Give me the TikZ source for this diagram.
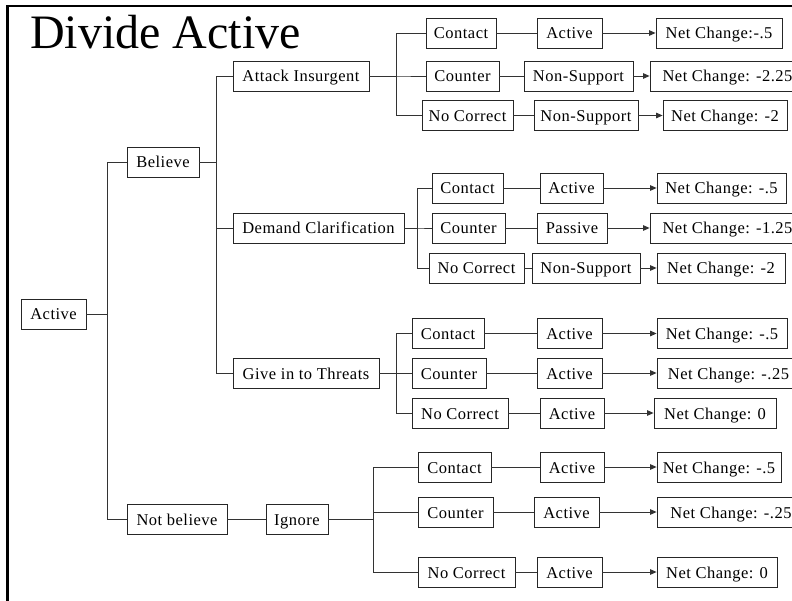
\documentclass[tikz,border=0pt]{standalone}
\usepackage{fontspec}
\setmainfont{Liberation Serif}
\newfontfamily\boxfont[LetterSpace=3]{Liberation Serif}
\usetikzlibrary{arrows.meta}
\begin{document}
\begin{tikzpicture}[x=1pt,y=-1pt,
  box/.style={draw=black!85,line width=0.8pt,minimum height=30pt,inner sep=0pt,
    text height=12pt,text depth=0pt,
    font=\boxfont\fontsize{16.5}{18}\selectfont,fill=white},
  link/.style={draw=black!80,line width=0.9pt},
  arr/.style={link,-{Triangle[length=6.5pt,width=5.5pt]}}]
\clip (0,0) rectangle (792,601);
\fill[white] (0,0) rectangle (792,601);
\draw[line width=2.5pt] (7.5,601) -- (7.5,6) -- (792,6);
\node[anchor=base west,font=\fontsize{48}{50}\selectfont,inner sep=0pt] (title) at (30,49) {Divide Active};

% main tree
\node[box,minimum width=65pt] (act) at (53.5,314) {Active};
\node[box,minimum width=72pt] (bel) at (163,162) {Believe};
\node[box,minimum width=100pt] (nbel) at (177,519) {Not believe};
\node[box,minimum width=62pt] (ign) at (297,519) {Ignore};
\node[box,minimum width=136pt] (att) at (301,76) {Attack Insurgent};
\node[box,minimum width=171pt] (dem) at (318.5,228) {Demand Clarification};
\node[box,minimum width=146pt] (giv) at (306,373.5) {Give in to Threats};

\coordinate (j0) at (107,0);
\coordinate (j1) at (216,0);
\coordinate (ja) at (396,0);
\coordinate (jd) at (417,0);
\coordinate (jg) at (396,0);
\coordinate (ji) at (373,0);

% Attack group
\node[box,minimum width=70pt] (a1) at (461,33) {Contact};
\node[box,minimum width=65pt] (a1m) at (569.5,33) {Active};
\node[box,minimum width=126pt] (a1n) at (719,33) {Net Change:-.5};
\node[box,minimum width=73pt] (a2) at (462.5,76) {Counter};
\node[box,minimum width=109pt] (a2m) at (578.5,76) {Non-Support};
\node[box,minimum width=155pt] (a2n) at (727.5,76) {Net Change: -2.25};
\node[box,minimum width=91pt] (a3) at (467.5,115.5) {No Correct};
\node[box,minimum width=104pt] (a3m) at (586,115.5) {Non-Support};
\node[box,minimum width=124pt] (a3n) at (725,115.5) {Net Change: -2};

% Demand group
\node[box,minimum width=71pt] (d1) at (467.5,188) {Contact};
\node[box,minimum width=63pt] (d1m) at (571.5,188) {Active};
\node[box,minimum width=129pt] (d1n) at (721.5,188) {Net Change: -.5};
\node[box,minimum width=73pt] (d2) at (468.5,228) {Counter};
\node[box,minimum width=70pt] (d2m) at (572,228) {Passive};
\node[box,minimum width=155pt] (d2n) at (727.5,228) {Net Change: -1.25};
\node[box,minimum width=95pt] (d3) at (476.5,268) {No Correct};
\node[box,minimum width=108pt] (d3m) at (586,268) {Non-Support};
\node[box,minimum width=128pt] (d3n) at (721,268) {Net Change: -2};

% Give group
\node[box,minimum width=72pt] (g1) at (448,333.5) {Contact};
\node[box,minimum width=65pt] (g1m) at (569.5,333.5) {Active};
\node[box,minimum width=130pt] (g1n) at (722,333.5) {Net Change: -.5};
\node[box,minimum width=74pt] (g2) at (449,373) {Counter};
\node[box,minimum width=65pt] (g2m) at (569.5,373) {Active};
\node[box,minimum width=143pt] (g2n) at (728.5,373) {Net Change: -.25};
\node[box,minimum width=96pt] (g3) at (460,413) {No Correct};
\node[box,minimum width=64pt] (g3m) at (572,413) {Active};
\node[box,minimum width=122pt] (g3n) at (715,413) {Net Change: 0};

% Ignore group
\node[box,minimum width=73pt] (i1) at (454.5,467) {Contact};
\node[box,minimum width=64pt] (i1m) at (572,467) {Active};
\node[box,minimum width=124pt] (i1n) at (719,467) {Net Change: -.5};
\node[box,minimum width=75pt] (i2) at (455.5,512) {Counter};
\node[box,minimum width=65pt] (i2m) at (566.5,512) {Active};
\node[box,minimum width=148pt] (i2n) at (731,512) {Net Change: -.25};
\node[box,minimum width=97pt] (i3) at (466.5,572) {No Correct};
\node[box,minimum width=65pt] (i3m) at (569.5,572) {Active};
\node[box,minimum width=120pt] (i3n) at (717,572) {Net Change: 0};

% tree connectors
\draw[link] (act.east) -- (act.east -| j0) |- (bel.west);
\draw[link] (act.east) -- (act.east -| j0) |- (nbel.west);
\draw[link] (nbel.east) -- (ign.west);
\draw[link] (bel.east) -- (bel.east -| j1) |- (att.west);
\draw[link] (bel.east) -- (bel.east -| j1) |- (dem.west);
\draw[link] (bel.east) -- (bel.east -| j1) |- (giv.west);
\foreach \c in {a1,a2,a3} \draw[link] (att.east) -- (att.east -| ja) |- (\c.west);
\foreach \c in {d1,d2,d3} \draw[link] (dem.east) -- (dem.east -| jd) |- (\c.west);
\foreach \c in {g1,g2,g3} \draw[link] (giv.east) -- (giv.east -| jg) |- (\c.west);
\foreach \c in {i1,i2,i3} \draw[link] (ign.east) -- (ign.east -| ji) |- (\c.west);

% row connectors
\foreach \c in {a1,a2,a3,d1,d2,d3,g1,g2,g3,i1,i2,i3} {
  \draw[link] (\c.east) -- (\c m.west);
  \draw[arr] (\c m.east) -- (\c n.west);
}
\end{tikzpicture}
\end{document}
